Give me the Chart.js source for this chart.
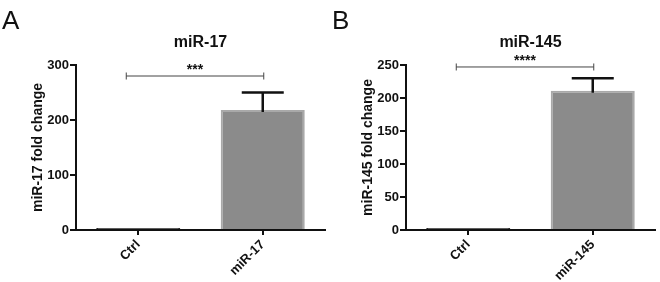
<!DOCTYPE html>
<html>
<head>
<meta charset="utf-8">
<script src="https://cdn.jsdelivr.net/npm/chart.js@4"></script>
<style>
  body { margin: 0; background: #fff; }
  #wrap { position: relative; width: 660px; height: 282px; }
  .panel { position: absolute; top: 0; width: 330px; height: 282px; }
</style>
</head>
<body>
<div id="wrap">
  <div class="panel" style="left:0"><canvas id="chartA" width="330" height="282"></canvas></div>
  <div class="panel" style="left:330px"><canvas id="chartB" width="330" height="282"></canvas></div>
</div>
<script>
// panel A: miR-17
const groupsA = ['Ctrl', 'miR-17'];
const meanA = [1, 218];
const sdA = [0, 32];
const ticksA = [0, 100, 200, 300];
const sigA = { label: '***', y: 280 };

// panel B: miR-145
const groupsB = ['Ctrl', 'miR-145'];
const meanB = [1, 211];
const sdB = [0, 19];
const ticksB = [0, 50, 100, 150, 200, 250];
const sigB = { label: '****', y: 247 };

const FONT = "'Liberation Sans', Arial, sans-serif";
const INK = '#111';

// error bars (upper only), significance bracket, panel title and letter
const extras = {
  id: 'extras',
  afterDatasetsDraw(chart, args, opts) {
    const c = chart.ctx;
    const xs = chart.scales.x, ys = chart.scales.y;
    const area = chart.chartArea;
    c.save();

    // error bars
    c.strokeStyle = INK;
    c.lineWidth = 2.5;
    opts.mean.forEach((m, i) => {
      if (!opts.sd[i]) return;
      const x = xs.getPixelForValue(i);
      const y0 = ys.getPixelForValue(m) + 2;
      const y1 = ys.getPixelForValue(m + opts.sd[i]);
      c.beginPath();
      c.moveTo(x, y0); c.lineTo(x, y1);
      c.moveTo(x - 21, y1); c.lineTo(x + 21, y1);
      c.stroke();
    });

    // significance bracket
    const by = ys.getPixelForValue(opts.sig.y);
    const bx0 = xs.getPixelForValue(0) - 12;
    const bx1 = xs.getPixelForValue(1) + 1;
    c.strokeStyle = '#444';
    c.lineWidth = 1;
    c.beginPath();
    c.moveTo(bx0, by); c.lineTo(bx1, by);
    c.moveTo(bx0, by - 3.5); c.lineTo(bx0, by + 3.5);
    c.moveTo(bx1, by - 3.5); c.lineTo(bx1, by + 3.5);
    c.stroke();
    c.fillStyle = INK;
    c.font = 'bold 14px ' + FONT;
    c.textAlign = 'center';
    c.textBaseline = 'alphabetic';
    c.fillText(opts.sig.label, (bx0 + bx1) / 2, by - 2);

    // title
    c.font = 'bold 16px ' + FONT;
    c.fillText(opts.title, (area.left + area.right) / 2, 47);

    // panel letter
    c.font = '26px ' + FONT;
    c.textAlign = 'left';
    c.fillText(opts.letter, 2, 29);
    c.restore();
  }
};

function makePanel(id, letter, title, groups, mean, sd, ticks, sig, ylabel) {
  const max = ticks[ticks.length - 1];
  return new Chart(document.getElementById(id), {
    type: 'bar',
    data: {
      labels: groups,
      datasets: [{
        data: mean,
        backgroundColor: ['#2a2a2a', '#8b8b8b'],
        borderColor: ['#2a2a2a', '#a9a9a9'],
        borderWidth: 2,
        borderSkipped: 'start',
        minBarLength: 2,
        categoryPercentage: 1,
        barPercentage: 0.675
      }]
    },
    options: {
      responsive: false,
      animation: false,
      layout: { padding: { top: 65, right: 5, left: 0, bottom: 0 } },
      plugins: {
        legend: { display: false },
        tooltip: { enabled: false },
        extras: { letter, title, mean, sd, sig }
      },
      scales: {
        x: {
          afterFit(scale) { scale.height = 52; },
          border: { color: INK, width: 2 },
          grid: { offset: false, drawOnChartArea: false, drawTicks: true, tickLength: 5, color: INK, lineWidth: 2 },
          ticks: {
            color: INK,
            font: { family: FONT, size: 13, weight: 'bold' },
            minRotation: 45, maxRotation: 45, padding: 2
          }
        },
        y: {
          min: 0, max: max,
          afterFit(scale) { scale.width = 76; },
          afterBuildTicks(scale) { scale.ticks = ticks.map(v => ({ value: v })); },
          border: { color: INK, width: 2 },
          grid: { drawOnChartArea: false, drawTicks: true, tickLength: 6, color: INK, lineWidth: 2 },
          ticks: {
            color: INK,
            font: { family: FONT, size: 13, weight: 'bold' },
            padding: 1
          },
          title: {
            display: true,
            text: ylabel,
            color: INK,
            font: { family: FONT, size: 14, weight: 'bold' },
            padding: { top: 30, bottom: 0 }
          }
        }
      }
    },
    plugins: [extras]
  });
}

makePanel('chartA', 'A', 'miR-17', groupsA, meanA, sdA, ticksA, sigA, 'miR-17 fold change');
makePanel('chartB', 'B', 'miR-145', groupsB, meanB, sdB, ticksB, sigB, 'miR-145 fold change');
</script>
</body>
</html>
